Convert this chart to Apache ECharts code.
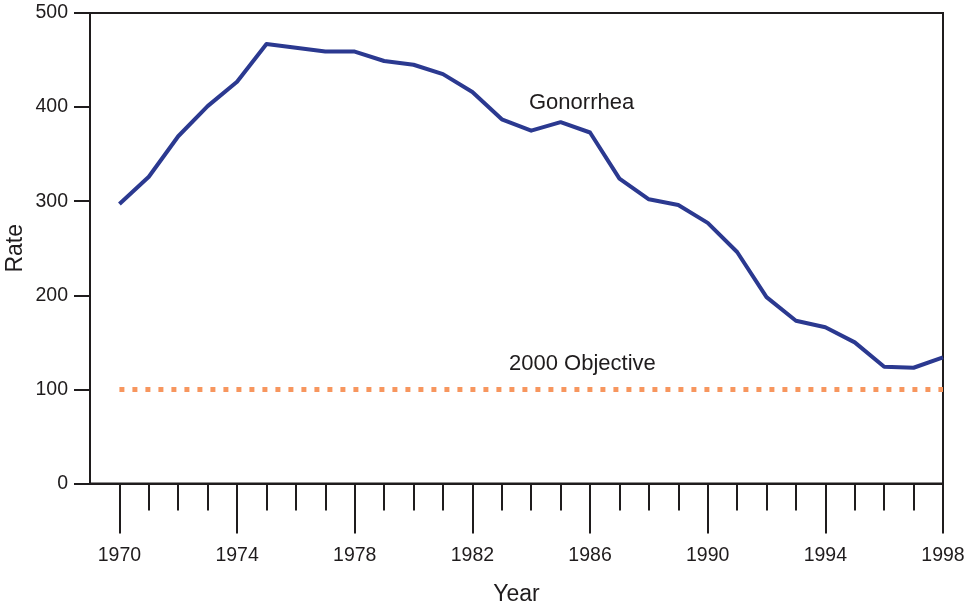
<!DOCTYPE html>
<html>
<head>
<meta charset="utf-8">
<script src="https://cdn.jsdelivr.net/npm/echarts@6/dist/echarts.min.js"></script>
<style>
html,body{margin:0;padding:0;background:#fff;}
#chart{width:976px;height:603px;}
</style>
</head>
<body>
<div id="chart"></div>
<script>
// Data
var years = [1970,1971,1972,1973,1974,1975,1976,1977,1978,1979,1980,1981,1982,1983,1984,1985,1986,1987,1988,1989,1990,1991,1992,1993,1994,1995,1996,1997,1998];
var gonorrheaRates = [297,326,369,401,427,467,463,459,459,449,445,435,416,387,375,384,373,324,302,296,277,246,198,173,166,150,124,123,134];
var objectiveYears = [1970,1998];
var objectiveRates = [100,100];
var majorTickYears = [1970,1974,1978,1982,1986,1990,1994,1998];
var minorTickYears = years.filter(function(y){ return majorTickYears.indexOf(y) < 0; });
var yTicks = [0,100,200,300,400,500];

var ink = '#1f1c1d';
var font = 'Liberation Sans, Arial, Helvetica, sans-serif';

var chart = echarts.init(document.getElementById('chart'), null, {renderer:'canvas'});

var gonData = years.map(function(y,i){ return [y, gonorrheaRates[i]]; });
var objData = objectiveYears.map(function(y,i){ return [y, objectiveRates[i]]; });

chart.setOption({
  animation: false,
  backgroundColor: '#fff',
  grid: {left: 90, right: 33, top: 13, bottom: 119.5, containLabel: false, outerBoundsMode: 'none',
         show: true, borderColor: ink, borderWidth: 2, backgroundColor: 'transparent'},
  xAxis: [{
    type: 'value', min: 1969, max: 1998, interval: 1,
    position: 'bottom',
    splitLine: {show: false},
    axisLine: {show: true, onZero: false, lineStyle: {color: ink, width: 2}},
    axisTick: {show: true, length: 50, customValues: majorTickYears, lineStyle: {color: ink, width: 2}},
    axisLabel: {show: true, customValues: majorTickYears, margin: 62, color: ink, fontSize: 19.5, fontFamily: font,
                formatter: function(v){ return String(v); }},
    name: 'Year', nameLocation: 'middle', nameGap: 100, nameMoveOverlap: false,
    nameTextStyle: {color: ink, fontSize: 23, fontFamily: font}
  },{
    type: 'value', min: 1969, max: 1998, interval: 1,
    position: 'bottom', offset: 0,
    splitLine: {show: false},
    axisLine: {show: false},
    axisTick: {show: true, length: 27, customValues: minorTickYears, lineStyle: {color: ink, width: 2}},
    axisLabel: {show: false}
  }],
  yAxis: {
    type: 'value', min: 0, max: 500, interval: 100,
    splitLine: {show: false},
    axisLine: {show: true, lineStyle: {color: ink, width: 2}},
    axisTick: {show: true, length: 16, customValues: yTicks, lineStyle: {color: ink, width: 2}},
    axisLabel: {margin: 22, color: ink, fontSize: 19.5, fontFamily: font, customValues: yTicks},
    name: 'Rate', nameLocation: 'middle', nameGap: 63, nameRotate: 90, nameMoveOverlap: false,
    nameTextStyle: {color: ink, fontSize: 23, fontFamily: font}
  },
  series: [{
    type: 'line', name: 'Gonorrhea', xAxisIndex: 0, data: gonData,
    symbol: 'none', smooth: false,
    lineStyle: {color: '#2B3990', width: 4, join: 'round'},
    z: 3
  },{
    type: 'line', name: '2000 Objective', xAxisIndex: 0, data: objData,
    symbol: 'none',
    lineStyle: {color: '#F7965E', width: 5, type: [5, 8], cap: 'butt'},
    z: 2
  }],
  graphic: [
    {type: 'text', left: 529, top: 92, style: {text: 'Gonorrhea', fill: ink, fontSize: 22, fontFamily: font}},
    {type: 'text', left: 509, top: 353, style: {text: '2000 Objective', fill: ink, fontSize: 22, fontFamily: font}}
  ]
});
</script>
</body>
</html>
